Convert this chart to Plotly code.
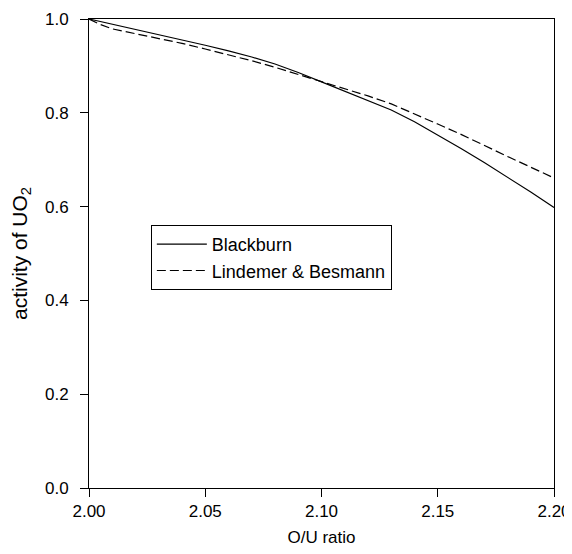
import plotly.graph_objects as go

# O/U ratio
ou_ratio = [2.00, 2.01, 2.02, 2.03, 2.04, 2.05, 2.06, 2.07, 2.08, 2.09, 2.10,
            2.11, 2.12, 2.13, 2.14, 2.15, 2.16, 2.17, 2.18, 2.19, 2.20]

# activity of UO2, Blackburn model
blackburn = [1.000, 0.989, 0.978, 0.967, 0.956, 0.944, 0.932, 0.919, 0.904, 0.886, 0.866,
             0.846, 0.827, 0.806, 0.781, 0.753, 0.724, 0.694, 0.663, 0.631, 0.598]

# activity of UO2, Lindemer & Besmann model
ou_ratio_lb = [2.00, 2.005, 2.01, 2.02, 2.03, 2.04, 2.05, 2.06, 2.07, 2.08, 2.09, 2.10,
               2.11, 2.12, 2.13, 2.14, 2.15, 2.16, 2.17, 2.18, 2.19, 2.20]
lindemer = [1.000, 0.988, 0.979, 0.969, 0.959, 0.948, 0.936, 0.924, 0.911, 0.897, 0.882, 0.867,
            0.852, 0.836, 0.819, 0.798, 0.776, 0.754, 0.730, 0.707, 0.684, 0.661]

x_ticks = [2.00, 2.05, 2.10, 2.15, 2.20]
y_ticks = [0.0, 0.2, 0.4, 0.6, 0.8, 1.0]

fig = go.Figure()
fig.add_trace(go.Scatter(x=ou_ratio, y=blackburn, mode='lines', name='Blackburn',
                         line=dict(color='black', width=1.2)))
fig.add_trace(go.Scatter(x=ou_ratio_lb, y=lindemer, mode='lines', name='Lindemer & Besmann',
                         line=dict(color='black', width=1.2, dash='9px,4px')))

axis_style = dict(showgrid=False, zeroline=False, showline=True, linecolor='black', linewidth=1,
                  mirror=True, ticks='outside', ticklen=8, tickcolor='black', tickwidth=1,
                  automargin=False, tickfont=dict(size=17, color='black'))

fig.update_xaxes(range=[2.0, 2.2], tickvals=x_ticks, ticktext=[f'{v:.2f}' for v in x_ticks],
                 title=dict(text='O/U ratio', font=dict(size=17, color='black'), standoff=10),
                 **axis_style)
fig.update_yaxes(range=[0.0, 1.0], tickvals=y_ticks, ticktext=[f'{v:.1f}' for v in y_ticks],
                 ticklabelstandoff=8,
                 title=dict(text='activity of UO<sub>2</sub>', font=dict(size=21, color='black'),
                            standoff=16),
                 **axis_style)

# the page body adds 8px around the figure, so the figure is 8px smaller
fig.update_layout(
    width=564, height=546,
    margin=dict(l=81, r=18, t=11, b=66),
    paper_bgcolor='white', plot_bgcolor='white',
    font=dict(family='Liberation Sans, Arial, sans-serif', size=17, color='black'),
    legend=dict(x=0.133, y=0.561, xanchor='left', yanchor='top',
                bordercolor='black', borderwidth=1, bgcolor='white',
                itemwidth=50, font=dict(size=18)),
)

fig.write_html('out.html')
